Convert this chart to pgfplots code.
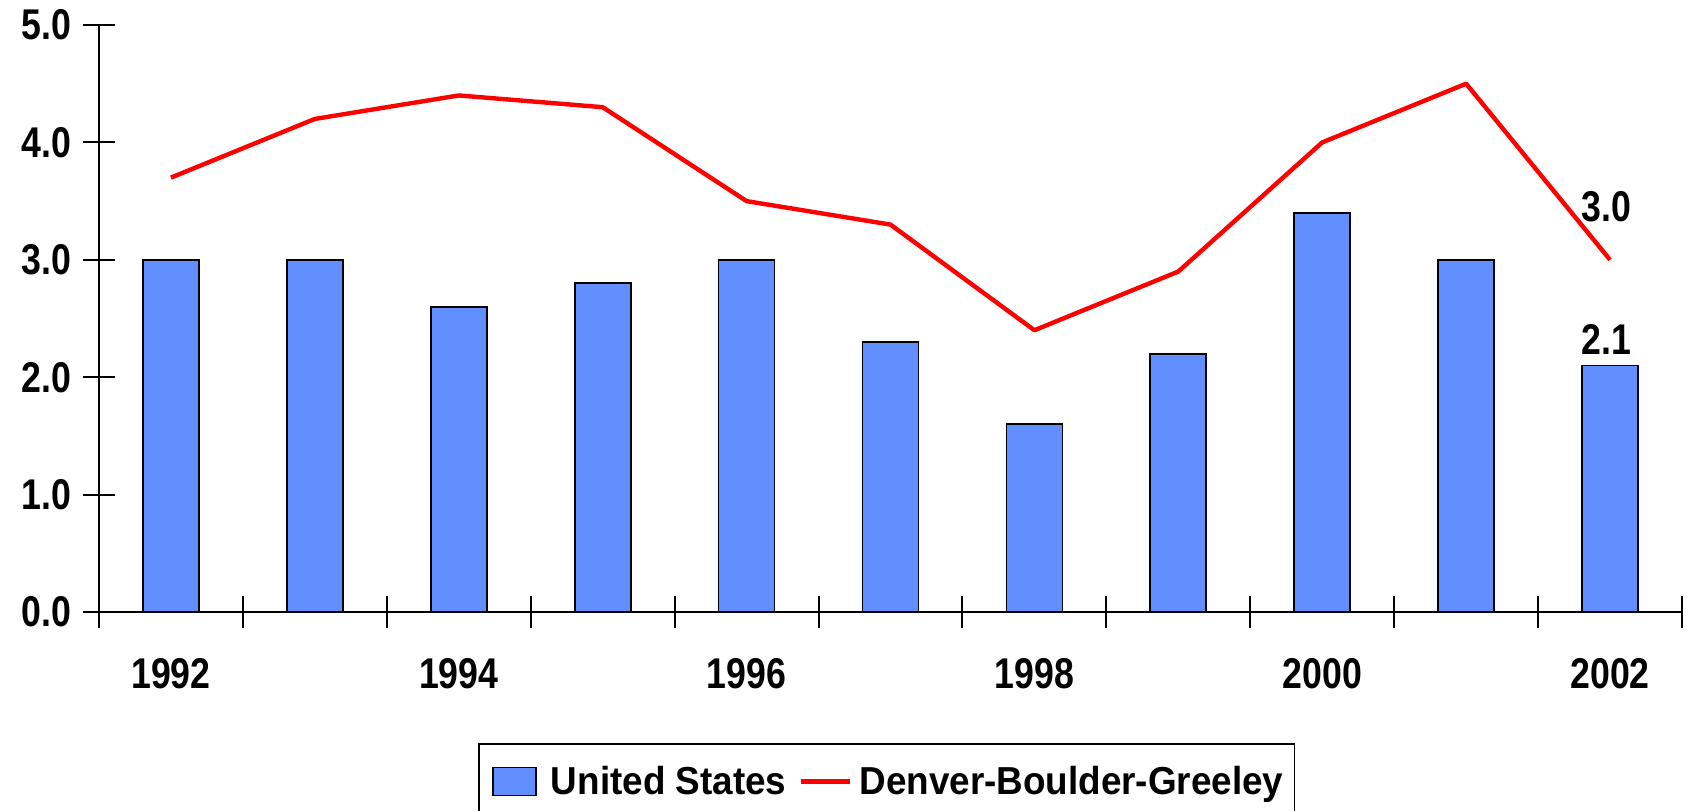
\documentclass[border=0pt]{standalone}
\usepackage{fontspec}
\setmainfont[FakeStretch=0.945]{Liberation Sans}
\newfontfamily\narrowfont[FakeStretch=0.83]{Liberation Sans}
\usepackage{pgfplots}
\pgfplotsset{compat=1.18}
\definecolor{barblue}{RGB}{98,143,255}
\newcommand{\chartfont}{\fontsize{19.5}{23}\selectfont\bfseries}
\newcommand{\tickfont}{\narrowfont\fontsize{21.5}{25}\selectfont\bfseries}
\pgfplotsset{
  barlegend/.style={legend image code/.code={\path[draw=none,fill=none] (0pt,-0.1pt) rectangle (30.6pt,0.1pt); \draw[##1] (3.7pt,-7pt) rectangle (25.2pt,7pt);}},
  linelegend/.style={legend image code/.code={\path[draw=none,fill=none] (0pt,-0.1pt) rectangle (27pt,0.1pt); \draw[##1] (0pt,0pt) -- (24.5pt,0pt);}},
}
\begin{document}
\begin{tikzpicture}
\useasboundingbox (-49.5pt,-99pt) rectangle (796.5pt,306pt);
\begin{axis}[
  at={(0pt,0pt)}, anchor=south west,
  scale only axis, width=791.5pt, height=293.5pt,
  xmin=-0.5, xmax=10.5, ymin=0, ymax=5,
  axis x line=bottom, axis y line=left,
  axis line style={-, line width=1pt, black},
  xtick={-0.5,0.5,...,10.5}, xticklabels={},
  extra x ticks={0,2,4,6,8,10},
  extra x tick labels={1992,1994,1996,1998,2000,2002},
  extra x tick style={major tick length=0pt},
  ytick={0,1,2,3,4,5},
  yticklabel style={/pgf/number format/fixed, /pgf/number format/fixed zerofill, /pgf/number format/precision=1, xshift=-2.4pt},
  /pgf/number format/assume math mode=true,
  tick align=center,
  major tick length=16pt,
  tick style={black, line width=1pt},
  ticklabel style={font=\tickfont},
  xticklabel style={yshift=-19.5pt},
  legend columns=-1,
  legend style={at={(0.2394,-0.2232)}, anchor=north west, draw=black, line width=0.8pt,
    font=\chartfont, inner xsep=3.5pt, inner ysep=9pt,
    /tikz/every even column/.append style={column sep=4.4pt}},
]
\addplot[ybar, bar width=28pt, fill=barblue, draw=black, line width=0.9pt, barlegend]
  coordinates {(0,3.0) (1,3.0) (2,2.6) (3,2.8) (4,3.0) (5,2.3) (6,1.6) (7,2.2) (8,3.4) (9,3.0) (10,2.1)};
\addlegendentry{United States}
\addplot[red, line width=2.2pt, line join=round, mark=none, linelegend]
  coordinates {(0,3.7) (1,4.2) (2,4.4) (3,4.3) (4,3.5) (5,3.3) (6,2.4) (7,2.9) (8,4.0) (9,4.5) (10,3.0)};
\addlegendentry{Denver-Boulder-Greeley}
\node[anchor=base, font=\tickfont, xshift=-2pt] at (axis cs:10,3.33) {3.0};
\node[anchor=base, font=\tickfont, xshift=-2pt] at (axis cs:10,2.19) {2.1};
\end{axis}
\end{tikzpicture}
\end{document}
